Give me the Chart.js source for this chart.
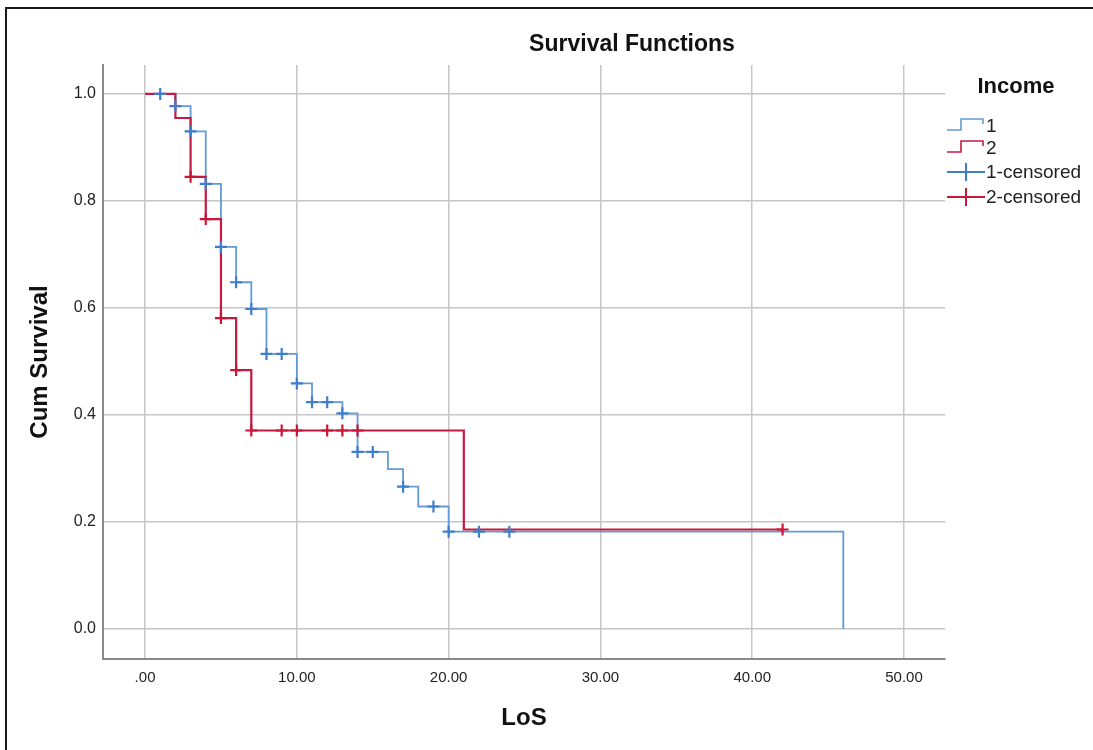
<!DOCTYPE html>
<html lang="en">
<head>
    <meta charset="UTF-8">
    <title>Survival Functions</title>
    <style>
        body { margin: 0; background: #fff; overflow: hidden; }
        #frame { position: absolute; left: 5px; top: 7px; width: 1200px; height: 900px;
                 border-left: 2px solid #1a1a1a; border-top: 2px solid #1a1a1a; }
        #myChart { position: absolute; left: 0; top: 0; }
    </style>
</head>
<body>
<div id="frame"></div>
<canvas id="myChart" width="1093" height="750"></canvas>
<script src="https://cdn.jsdelivr.net/npm/chart.js@4.4.1/dist/chart.umd.min.js"></script>
<script>
    // Kaplan-Meier steps
    const blueTimes = [0, 2, 3, 4, 5, 6, 7, 8, 10, 11, 13, 14, 16, 17, 18, 20, 46];
    const blueSurv = [1, 0.977, 0.930, 0.832, 0.714, 0.648, 0.598, 0.514, 0.459, 0.424, 0.403, 0.331, 0.299, 0.266, 0.229, 0.182, 0];
    const redTimes = [0, 2, 3, 4, 5, 6, 7, 21, 42];
    const redSurv = [1, 0.955, 0.845, 0.766, 0.581, 0.484, 0.371, 0.186, 0.186];

    // censored cases
    const blueCensTimes = [1, 2, 3, 4, 5, 6, 7, 8, 9, 10, 11, 12, 13, 14, 15, 17, 19, 20, 22, 24];
    const blueCensSurv = [1, 0.977, 0.930, 0.832, 0.714, 0.648, 0.598, 0.514, 0.514, 0.459, 0.424, 0.424, 0.403, 0.331, 0.331, 0.266, 0.229, 0.182, 0.182, 0.182];
    const redCensTimes = [3, 4, 5, 6, 7, 9, 10, 12, 13, 14, 42];
    const redCensSurv = [0.845, 0.766, 0.581, 0.484, 0.371, 0.371, 0.371, 0.371, 0.371, 0.371, 0.186];

    const seriesNames = ['1', '2', '1-censored', '2-censored'];
    const xTicks = [0, 10, 20, 30, 40, 50];
    const yTicks = [0, 0.2, 0.4, 0.6, 0.8, 1.0];

    const blueLine = 'rgb(98, 155, 215)';
    const blueMark = 'rgb(62, 126, 205)';
    const redLine = 'rgb(196, 26, 66)';
    const redMark = 'rgb(200, 22, 56)';
    const fontName = '"Liberation Sans", Arial, sans-serif';

    const toPoints = (xs, ys) => xs.map((x, i) => ({x: x, y: ys[i]}));

    // SPSS-like chart title and legend
    const extrasPlugin = {
        id: 'extras',
        afterDraw(chart) {
            const ctx = chart.ctx;
            ctx.save();
            ctx.fillStyle = '#111';
            ctx.font = 'bold 23px ' + fontName;
            ctx.textAlign = 'center';
            ctx.textBaseline = 'middle';
            ctx.fillText('Survival Functions', 632, 45);

            ctx.font = 'bold 22px ' + fontName;
            ctx.fillText('Income', 1016, 87);

            ctx.font = '19px ' + fontName;
            ctx.textAlign = 'left';
            ctx.fillStyle = '#222';
            const rows = [126, 148, 172, 197];
            const cols = [blueLine, redLine, blueMark, redMark];
            rows.forEach((y, i) => {
                ctx.strokeStyle = cols[i];
                ctx.lineWidth = i < 2 ? 1.6 : 2;
                ctx.beginPath();
                if (i < 2) {
                    ctx.moveTo(947, y + 4);
                    ctx.lineTo(961, y + 4);
                    ctx.lineTo(961, y - 7);
                    ctx.lineTo(983, y - 7);
                    ctx.lineTo(983, y - 2);
                } else {
                    ctx.moveTo(947, y);
                    ctx.lineTo(985, y);
                    ctx.moveTo(966, y - 9);
                    ctx.lineTo(966, y + 9);
                }
                ctx.stroke();
                ctx.fillText(seriesNames[i], 986, y + 1);
            });
            ctx.restore();
        }
    };

    let ctx = document.getElementById('myChart').getContext('2d');
    let chart = new Chart(ctx, {
        type: 'scatter',
        data: {
            datasets: [
                {
                    label: seriesNames[2],
                    data: toPoints(blueCensTimes, blueCensSurv),
                    showLine: false,
                    pointStyle: 'cross',
                    pointRadius: 6,
                    borderWidth: 2.2,
                    borderColor: blueMark,
                    backgroundColor: blueMark,
                    order: 0
                },
                {
                    label: seriesNames[3],
                    data: toPoints(redCensTimes, redCensSurv),
                    showLine: false,
                    pointStyle: 'cross',
                    pointRadius: 6,
                    borderWidth: 2.2,
                    borderColor: redMark,
                    backgroundColor: redMark,
                    order: 0
                },
                {
                    label: seriesNames[1],
                    data: toPoints(redTimes, redSurv),
                    showLine: true,
                    stepped: true,
                    fill: false,
                    pointRadius: 0,
                    borderWidth: 2.2,
                    borderColor: redLine,
                    order: 1
                },
                {
                    label: seriesNames[0],
                    data: toPoints(blueTimes, blueSurv),
                    showLine: true,
                    stepped: true,
                    fill: false,
                    pointRadius: 0,
                    borderWidth: 1.8,
                    borderColor: blueLine,
                    order: 2
                }
            ]
        },
        options: {
            responsive: false,
            animation: false,
            layout: {padding: {left: 0, top: 65, right: 148, bottom: 0}},
            plugins: {
                legend: {display: false},
                title: {display: false},
                tooltip: {enabled: false}
            },
            scales: {
                x: {
                    type: 'linear',
                    min: -2.77,
                    max: 52.7,
                    afterBuildTicks: s => { s.ticks = xTicks.map(v => ({value: v})); },
                    afterFit: s => { s.height = 91; },
                    ticks: {
                        padding: 10,
                        color: '#222',
                        font: {family: fontName, size: 15},
                        callback: v => v === 0 ? '.00' : v.toFixed(2)
                    },
                    grid: {color: '#c6c6c6', lineWidth: 1.5, drawTicks: false},
                    border: {color: '#8a8a8a', width: 2},
                    title: {
                        display: true,
                        text: 'LoS',
                        color: '#111',
                        font: {family: fontName, size: 24, weight: 'bold'},
                        padding: {top: 0, bottom: 17}
                    }
                },
                y: {
                    min: -0.056,
                    max: 1.054,
                    afterBuildTicks: s => { s.ticks = yTicks.map(v => ({value: v})); },
                    afterFit: s => { s.width = 103; },
                    ticks: {
                        padding: 7,
                        color: '#222',
                        font: {family: fontName, size: 16},
                        callback: v => v.toFixed(1)
                    },
                    grid: {color: '#c6c6c6', lineWidth: 1.5, drawTicks: false},
                    border: {color: '#8a8a8a', width: 2},
                    title: {
                        display: true,
                        text: 'Cum Survival',
                        color: '#111',
                        font: {family: fontName, size: 24, weight: 'bold'},
                        padding: {top: 26, bottom: 0}
                    }
                }
            }
        },
        plugins: [extrasPlugin]
    });
</script>
</body>
</html>
